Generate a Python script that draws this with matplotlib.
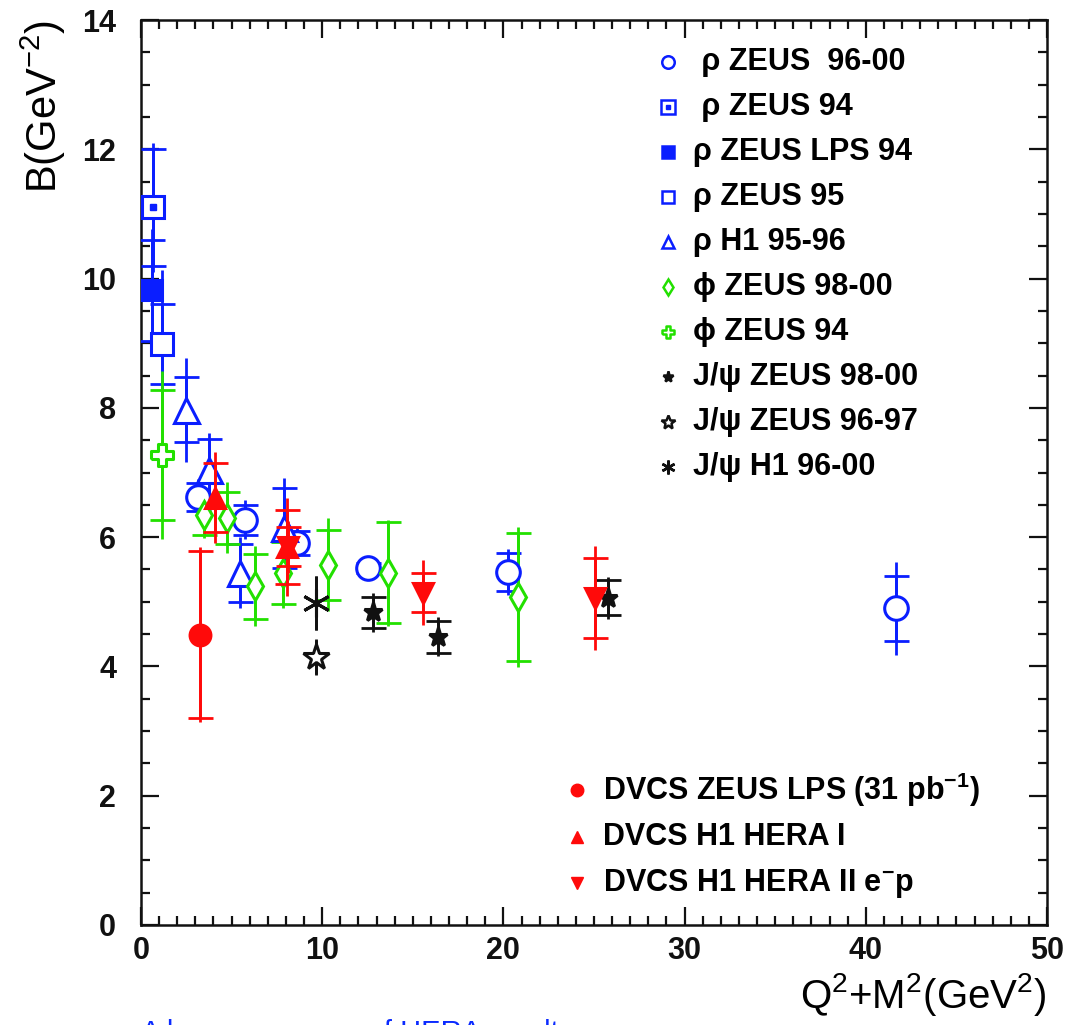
import matplotlib
matplotlib.use("Agg")
import matplotlib.pyplot as plt
from matplotlib.path import Path
from matplotlib.ticker import MultipleLocator

plt.rcParams['font.family'] = ['Liberation Sans', 'DejaVu Sans']
plt.rcParams['mathtext.fontset'] = 'custom'
plt.rcParams['mathtext.rm'] = 'Liberation Sans'
plt.rcParams['mathtext.bf'] = 'Liberation Sans:bold'
plt.rcParams['mathtext.default'] = 'regular'

# ---- data (x = Q^2+M^2, y = B, stat = inner error (caps), tot = full error line)
rho_z9600_x = [3.15, 5.74, 8.61, 12.53, 20.25, 41.67]
rho_z9600_y = [6.62, 6.27, 5.91, 5.52, 5.46, 4.90]
rho_z9600_stat = [0.22, 0.23, 0.18, 0.08, 0.29, 0.50]
rho_z9600_tot = [0.28, 0.30, 0.24, 0.10, 0.35, 0.72]

rho_z94_x = [0.66]
rho_z94_y = [11.10]
rho_z94_stat = [0.90]
rho_z94_tot = [1.00]

rho_zlps94_x = [0.62]
rho_zlps94_y = [9.82]
rho_zlps94_stat = [0.78]
rho_zlps94_tot = [0.95]

rho_z95_x = [1.16]
rho_z95_y = [8.99]
rho_z95_stat = [0.62]
rho_z95_tot = [1.15]

rho_h1_x = [2.48, 3.75, 5.46, 7.89]
rho_h1_y = [7.97, 7.04, 5.45, 6.14]
rho_h1_stat = [0.50, 0.48, 0.45, 0.62]
rho_h1_tot = [0.80, 0.57, 0.55, 0.78]

phi_z9800_x = [3.48, 4.75, 6.29, 7.84, 10.32, 13.63, 20.80]
phi_z9800_y = [6.34, 6.30, 5.24, 5.45, 5.57, 5.45, 5.07]
phi_z9800_stat = [0.30, 0.40, 0.50, 0.48, 0.54, 0.78, 0.99]
phi_z9800_tot = [0.36, 0.55, 0.62, 0.55, 0.72, 0.82, 1.08]

phi_z94_x = [1.16]
phi_z94_y = [7.27]
phi_z94_stat = [1.00]
phi_z94_tot = [1.30]

jpsi_z9800_x = [12.80, 16.39, 25.77]
jpsi_z9800_y = [4.84, 4.46, 5.06]
jpsi_z9800_stat = [0.24, 0.25, 0.27]
jpsi_z9800_tot = [0.30, 0.30, 0.32]

jpsi_z9697_x = [9.66]
jpsi_z9697_y = [4.15]
jpsi_z9697_stat = [0.26]
jpsi_z9697_tot = [0.28]

jpsi_h1_x = [9.66]
jpsi_h1_y = [4.98]
jpsi_h1_stat = [0.42]
jpsi_h1_tot = [0.42]

dvcs_zlps_x = [3.26]
dvcs_zlps_y = [4.49]
dvcs_zlps_stat = [1.29]
dvcs_zlps_tot = [1.35]

dvcs_h1i_x = [4.08, 8.06]
dvcs_h1i_y = [6.61, 5.85]
dvcs_h1i_stat = [0.53, 0.57]
dvcs_h1i_tot = [0.70, 0.76]

dvcs_h1ii_x = [8.10, 15.56, 25.06]
dvcs_h1ii_y = [5.85, 5.14, 5.06]
dvcs_h1ii_stat = [0.30, 0.30, 0.62]
dvcs_h1ii_tot = [0.40, 0.50, 0.80]

BLUE = '#0a1eff'
GREEN = '#22e000'
RED = '#ff0a0a'
BLACK = '#111111'

open_cross = Path([(-1, -0.38), (-0.38, -0.38), (-0.38, -1), (0.38, -1), (0.38, -0.38),
                   (1, -0.38), (1, 0.38), (0.38, 0.38), (0.38, 1), (-0.38, 1),
                   (-0.38, 0.38), (-1, 0.38), (-1, -0.38)])


def draw(ax, x, y, stat, tot, color, marker, ms, filled, capsize=9, z=3):
    ax.errorbar(x, y, yerr=tot, fmt='none', ecolor=color, elinewidth=2, zorder=z)
    ax.errorbar(x, y, yerr=stat, fmt='none', ecolor=color, elinewidth=2,
                capsize=capsize, capthick=2, zorder=z)
    ax.plot(x, y, linestyle='none', marker=marker, ms=ms, mec=color,
            mfc=color if filled else 'white', mew=2.2, zorder=z + 0.5)


fig = plt.figure(figsize=(10.71, 10.25), dpi=100)
ax = fig.add_axes([141 / 1071, 1 - 925 / 1025, 906 / 1071, 905 / 1025])

draw(ax, rho_z9600_x, rho_z9600_y, rho_z9600_stat, rho_z9600_tot, BLUE, 'o', 17, False)
draw(ax, rho_z94_x, rho_z94_y, rho_z94_stat, rho_z94_tot, BLUE, 's', 16, False)
ax.plot(rho_z94_x, rho_z94_y, linestyle='none', marker='s', ms=5, color=BLUE, zorder=4)
draw(ax, rho_zlps94_x, rho_zlps94_y, rho_zlps94_stat, rho_zlps94_tot, BLUE, 's', 15, True)
draw(ax, rho_z95_x, rho_z95_y, rho_z95_stat, rho_z95_tot, BLUE, 's', 16, False)
draw(ax, rho_h1_x, rho_h1_y, rho_h1_stat, rho_h1_tot, BLUE, '^', 18, False)
draw(ax, phi_z9800_x, phi_z9800_y, phi_z9800_stat, phi_z9800_tot, GREEN, 'd', 14, False)
draw(ax, phi_z94_x, phi_z94_y, phi_z94_stat, phi_z94_tot, GREEN, open_cross, 16, False)
draw(ax, jpsi_z9800_x, jpsi_z9800_y, jpsi_z9800_stat, jpsi_z9800_tot, BLACK, '*', 14, True)
draw(ax, jpsi_z9697_x, jpsi_z9697_y, jpsi_z9697_stat, jpsi_z9697_tot, BLACK, '*', 19, False, capsize=0)
draw(ax, jpsi_h1_x, jpsi_h1_y, jpsi_h1_stat, jpsi_h1_tot, BLACK, (6, 2, 0), 20, True, capsize=0)
draw(ax, dvcs_zlps_x, dvcs_zlps_y, dvcs_zlps_stat, dvcs_zlps_tot, RED, 'o', 15, True, z=5)
draw(ax, dvcs_h1i_x, dvcs_h1i_y, dvcs_h1i_stat, dvcs_h1i_tot, RED, '^', 15, True, z=5)
draw(ax, dvcs_h1ii_x, dvcs_h1ii_y, dvcs_h1ii_stat, dvcs_h1ii_tot, RED, 'v', 15, True, z=5)

ax.set_xlim(0, 50)
ax.set_ylim(0, 14)
ax.xaxis.set_major_locator(MultipleLocator(10))
ax.xaxis.set_minor_locator(MultipleLocator(1))
ax.yaxis.set_major_locator(MultipleLocator(2))
ax.yaxis.set_minor_locator(MultipleLocator(0.5))
ax.tick_params(which='both', direction='in', top=True, right=True, width=1.6, colors='#111111')
ax.tick_params(which='major', length=13)
ax.tick_params(which='minor', length=6.5)
ax.tick_params(axis='y', which='major', pad=18, labelsize=22)
ax.tick_params(axis='x', which='major', pad=8, labelsize=22)
for lab in ax.get_xticklabels() + ax.get_yticklabels():
    lab.set_fontweight('bold')
for sp in ax.spines.values():
    sp.set_linewidth(1.8)
    sp.set_color('#111111')

fig.text(0.040, 1 - 20 / 1025, 'B(GeV$^{-2}$)', rotation=90, ha='center', va='top', fontsize=30)
fig.text(1047 / 1071, 1 - 995 / 1025, 'Q$^2$+M$^2$(GeV$^2$)', ha='right', va='center', fontsize=29)
fig.text(141 / 1071, -0.016, 'A large summary of HERA results', color='#0a2aff', fontsize=21,
         ha='left', va='baseline')

# ---- legends drawn by hand at the reference positions
leg1 = [
    (' ρ ZEUS  96-00', BLUE, 'o', 9, False),
    (' ρ ZEUS 94', BLUE, 's', 10, False),
    ('ρ ZEUS LPS 94', BLUE, 's', 8, True),
    ('ρ ZEUS 95', BLUE, 's', 9, False),
    ('ρ H1 95-96', BLUE, '^', 9, False),
    ('ϕ ZEUS 98-00', GREEN, 'd', 8, False),
    ('ϕ ZEUS 94', GREEN, open_cross, 9, False),
    ('J/ψ ZEUS 98-00', BLACK, '*', 8, True),
    ('J/ψ ZEUS 96-97', BLACK, '*', 10, False),
    ('J/ψ H1 96-00', BLACK, (6, 2, 0), 10, True),
]
for i, (lab, c, m, ms, filled) in enumerate(leg1):
    yy = 0.9536 - i * 0.0497
    ax.plot([0.5817], [yy], transform=ax.transAxes, marker=m, ms=ms, mec=c,
            mfc=c if filled else 'white', mew=1.8, clip_on=False)
    if i == 1:
        ax.plot([0.5817], [yy], transform=ax.transAxes, marker='s', ms=3, color=c, clip_on=False)
    ax.text(0.609, yy, lab, transform=ax.transAxes, va='center', ha='left',
            fontsize=22, fontweight='bold')

leg2 = [
    ('DVCS ZEUS LPS (31 pb$^{-1}$)', RED, 'o', 9),
    ('DVCS H1 HERA I', RED, '^', 9),
    ('DVCS H1 HERA II e$^{-}$p', RED, 'v', 9),
]
for i, (lab, c, m, ms) in enumerate(leg2):
    yy = 0.149 - i * 0.0515
    ax.plot([0.481], [yy], transform=ax.transAxes, marker=m, ms=ms, color=c, clip_on=False)
    ax.text(0.51, yy, lab, transform=ax.transAxes, va='center', ha='left',
            fontsize=22, fontweight='bold')

fig.savefig('out.png', dpi=100)
